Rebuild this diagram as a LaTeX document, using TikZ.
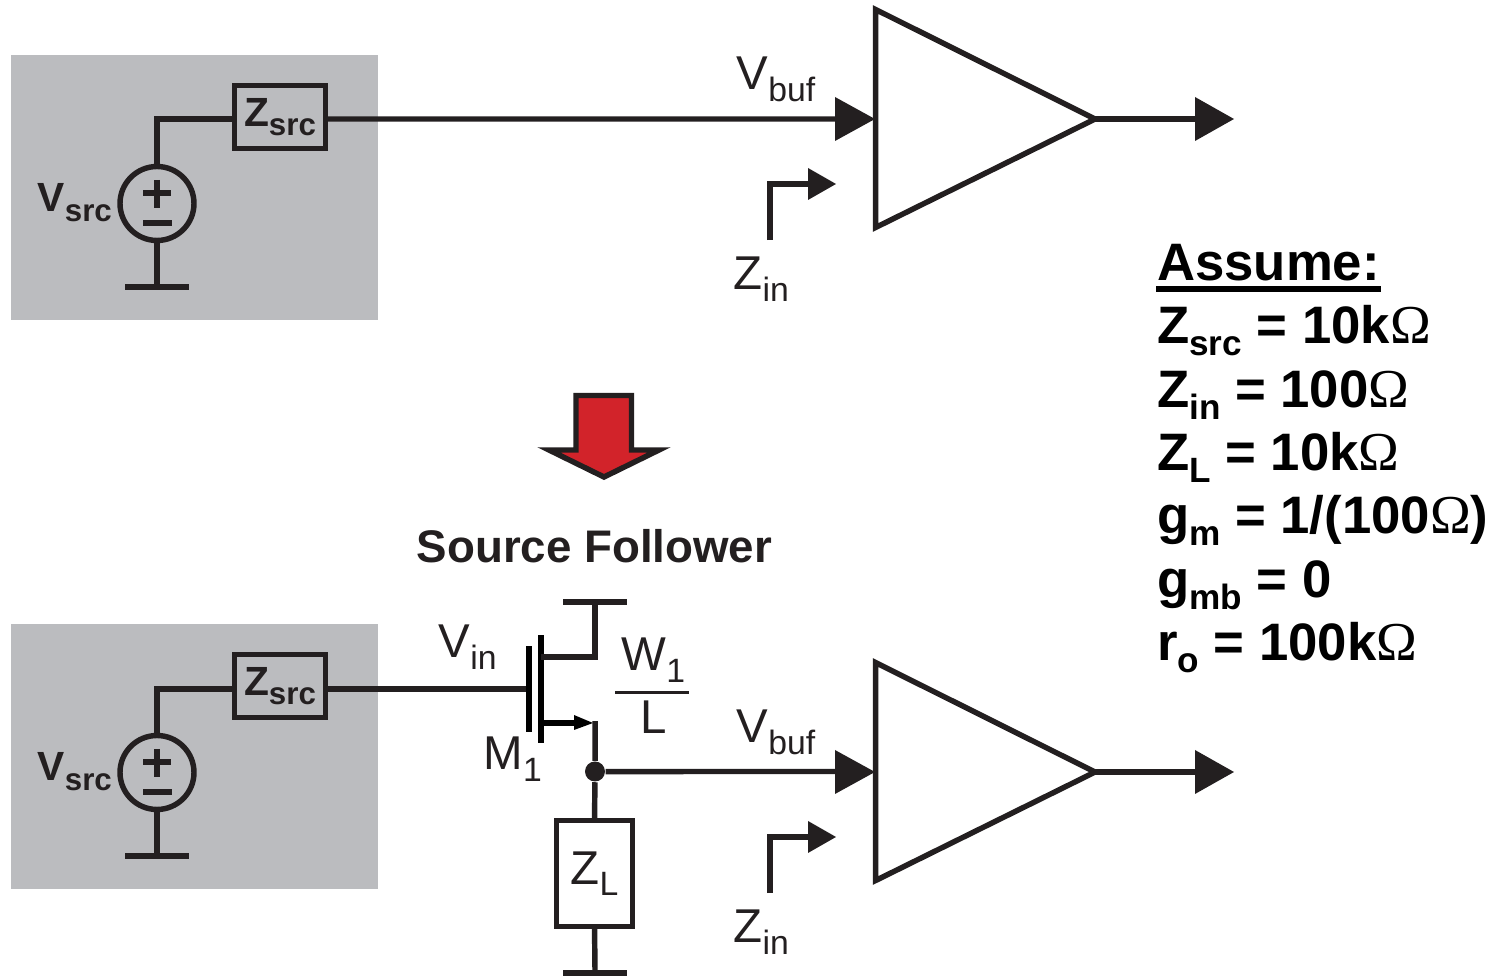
\documentclass[tikz,border=0pt]{standalone}
\usepackage{fontspec}
\setmainfont{Liberation Sans}
\newfontfamily\omegafont{Liberation Serif}
\definecolor{ink}{HTML}{231F20}
\definecolor{boxgray}{HTML}{BBBCBF}
\definecolor{redfill}{HTML}{D2232A}
\newcommand{\lowtxt}[1]{\raisebox{-3.4pt}{\fontsize{10}{10}\selectfont #1}}
\newcommand{\lowthin}[1]{\raisebox{-3.2pt}{\fontsize{9.6}{9.6}\selectfont #1}}
\newcommand{\lowbox}[1]{\raisebox{-2.6pt}{\fontsize{8.9}{8.9}\selectfont #1}}
\newcommand{\ohm}{{\fontsize{15.6}{15.6}\omegafont\mdseries Ω}}
\newcommand{\thin}{\fontsize{13.5}{13.5}\selectfont}
\newcommand{\heavy}{\fontsize{15}{15}\selectfont\bfseries}
\newcommand{\boxfont}{\fontsize{11.6}{11.6}\selectfont\bfseries}
\tikzset{
  wire/.style={ink,line width=1.55pt,line join=miter},
  bar/.style={ink,line width=1.7pt},
  txt/.style={anchor=base west,inner sep=0pt,text=ink},
  listtxt/.style={anchor=base west,inner sep=0pt,text=black,font=\heavy},
  zbox/.style={draw=ink,line width=1.7pt,rectangle,inner sep=0pt,outer sep=0pt,minimum width=0.91cm,minimum height=0.63cm,text=ink,font=\boxfont},
  srcnode/.style={draw=ink,line width=1.55pt,circle,inner sep=0pt,outer sep=0pt,minimum size=0.74cm}
}
\begin{document}
\begin{tikzpicture}[scale=0.1]
\useasboundingbox (0,0) rectangle (149.8,-97.7);
\fill [boxgray] (1.1,-5.55) rectangle (37.8,-32.05);
\fill [boxgray] (1.1,-62.45) rectangle (37.8,-88.95);
\node [zbox] (zsrcA) at (28,-11.7) {\raisebox{-0.6pt}{Z\lowbox{src}}};
\node [srcnode] (srcA) at (15.7,-20.35) {};
\coordinate (cornerA) at (15.7,-11.9);
\coordinate (gndA) at (15.7,-28.7);
\coordinate (gndAl) at (12.5,-28.7);
\coordinate (gndAr) at (18.9,-28.7);
\draw [wire] (srcA.north) -- (cornerA) -- (cornerA -| zsrcA.west);
\draw [wire] (srcA.south) -- (gndA);
\draw [bar] (gndAl) -- (gndAr);
\draw [bar] (15.7,-18) -- (15.7,-20.8);
\draw [bar] (14.3,-19.3) -- (17.1,-19.3);
\draw [bar] (14.3,-22.3) -- (17.2,-22.3);
\node [txt,font=\boxfont] (vsrcA) at (3.7,-21.2) {V\lowbox{src}};
\coordinate (ampAin) at (87.55,-11.9);
\coordinate (ampAtop) at (87.55,-0.95);
\coordinate (ampAbot) at (87.55,-22.75);
\coordinate (ampAout) at (109.5,-11.9);
\coordinate (outA) at (119.7,-11.9);
\draw [wire] (zsrcA.east |- ampAin) -- (84,-11.9);
\fill [ink] (83.5,-9.7) -- (87.5,-11.9) -- (83.5,-14.1) -- cycle;
\draw [wire] (ampAtop) -- (ampAout) -- (ampAbot) -- cycle;
\draw [wire] (ampAout) -- (outA);
\fill [ink] (119.5,-9.7) -- (123.4,-11.9) -- (119.5,-14.1) -- cycle;
\node [txt,font=\thin] (vbufA) at (73.6,-9) {V\lowthin{buf}};
\coordinate (zinAa) at (77,-24);
\coordinate (zinAb) at (77,-18.4);
\coordinate (zinAc) at (81,-18.4);
\draw [wire] (zinAa) -- (zinAb) -- (zinAc);
\fill [ink] (80.8,-16.8) -- (83.6,-18.4) -- (80.8,-20) -- cycle;
\node [txt,font=\thin] (zinA) at (73.3,-29) {Z\lowthin{in}};
\draw [ink,fill=redfill,line width=1.55pt,miter limit=10] (57.6,-39.55) -- (63.15,-39.55) -- (63.15,-45) -- (65.9,-45) -- (60.4,-47.7) -- (54.9,-45) -- (57.6,-45) -- cycle;
\node [txt,font=\fontsize{13}{13}\selectfont\bfseries] (title) at (41.6,-56.3) {Source Follower};
\node [zbox] (zsrcB) at (28,-68.6) {\raisebox{-0.6pt}{Z\lowbox{src}}};
\node [srcnode] (srcB) at (15.7,-77.25) {};
\coordinate (cornerB) at (15.7,-68.9);
\coordinate (gndB) at (15.7,-85.6);
\coordinate (gndBl) at (12.5,-85.6);
\coordinate (gndBr) at (18.9,-85.6);
\draw [wire] (srcB.north) -- (cornerB) -- (cornerB -| zsrcB.west);
\draw [wire] (srcB.south) -- (gndB);
\draw [bar] (gndBl) -- (gndBr);
\draw [bar] (15.7,-74.9) -- (15.7,-77.7);
\draw [bar] (14.3,-76.2) -- (17.1,-76.2);
\draw [bar] (14.3,-79.2) -- (17.2,-79.2);
\node [txt,font=\boxfont] (vsrcB) at (3.7,-78.1) {V\lowbox{src}};
\coordinate (gateB) at (52.9,-68.9);
\coordinate (gateT) at (52.9,-64.6);
\coordinate (gateD) at (52.9,-73.2);
\coordinate (chanT) at (54.1,-63.5);
\coordinate (chanD) at (54.1,-74.3);
\coordinate (drainA) at (54.1,-65.7);
\coordinate (drainB) at (59.5,-65.7);
\coordinate (vdd) at (59.5,-60.2);
\coordinate (vddl) at (56.3,-60.2);
\coordinate (vddr) at (62.7,-60.2);
\coordinate (sourceA) at (54.1,-72.3);
\coordinate (sourceB) at (57.6,-72.3);
\coordinate (sourceC) at (59.5,-72.1);
\draw [wire] (zsrcB.east |- gateB) -- (gateB);
\draw [black,line width=1.7pt] (gateT) -- (gateD);
\draw [black,line width=1.7pt] (chanT) -- (chanD);
\draw [wire] (drainA) -- (drainB) -- (vdd);
\draw [bar] (vddl) -- (vddr);
\draw [black,line width=1.6pt] (sourceA) -- (sourceB);
\fill [black] (57.4,-71.5) -- (59.3,-72.3) -- (57.4,-73) -- cycle;
\node [circle,fill=ink,inner sep=0pt,minimum size=0.2cm] (dot) at (59.5,-77.15) {};
\node [zbox,minimum width=0.76cm,minimum height=1.06cm,font=\thin] (zl) at (59.45,-87.35) {\raisebox{-0.5pt}{Z\lowthin{L}}};
\coordinate (gndC) at (59.5,-97.3);
\coordinate (gndCl) at (56.3,-97.3);
\coordinate (gndCr) at (62.7,-97.3);
\draw [wire] (sourceC) -- (dot);
\draw [wire] (dot) -- (zl.north);
\draw [wire] (zl.south) -- (gndC);
\draw [bar] (gndCl) -- (gndCr);
\node [txt,font=\thin] (vin) at (43.8,-65.8) {V\lowthin{in}};
\node [txt,font=\thin] (wone) at (62.1,-67.1) {W\lowthin{1}};
\coordinate (fracl) at (61.5,-69.25);
\coordinate (fracr) at (68.9,-69.25);
\draw [ink,line width=1.1pt] (fracl) -- (fracr);
\node [txt,font=\thin] (ell) at (64,-73.4) {L};
\node [txt,font=\thin] (mone) at (48.3,-77) {M\lowthin{1}};
\coordinate (ampBin) at (87.55,-77.2);
\coordinate (ampBtop) at (87.55,-66.25);
\coordinate (ampBbot) at (87.55,-88.05);
\coordinate (ampBout) at (109.5,-77.2);
\coordinate (outB) at (119.7,-77.2);
\draw [wire] (dot) -- (84,-77.15);
\fill [ink] (83.5,-75) -- (87.5,-77.2) -- (83.5,-79.4) -- cycle;
\draw [wire] (ampBtop) -- (ampBout) -- (ampBbot) -- cycle;
\draw [wire] (ampBout) -- (outB);
\fill [ink] (119.5,-75) -- (123.4,-77.2) -- (119.5,-79.4) -- cycle;
\node [txt,font=\thin] (vbufB) at (73.6,-74.3) {V\lowthin{buf}};
\coordinate (zinBa) at (77,-89.3);
\coordinate (zinBb) at (77,-83.7);
\coordinate (zinBc) at (81,-83.7);
\draw [wire] (zinBa) -- (zinBb) -- (zinBc);
\fill [ink] (80.8,-82.1) -- (83.6,-83.7) -- (80.8,-85.3) -- cycle;
\node [txt,font=\thin] (zinB) at (73.3,-94.3) {Z\lowthin{in}};
\node [listtxt] (assume) at (115.65,-28.1) {Assume:};
\draw [black,line width=1.7pt] (115.6,-28.9) -- (assume.base east |- 0,-28.9);
\node [listtxt] (lineA) at (115.65,-34.4) {Z\lowtxt{src} = 10k\ohm};
\node [listtxt] (lineB) at (115.65,-40.8) {Z\lowtxt{in} = 100\ohm};
\node [listtxt] (lineC) at (115.65,-47.1) {Z\lowtxt{L} = 10k\ohm};
\node [listtxt] (lineD) at (115.65,-53.4) {g\lowtxt{m} = 1/(100\ohm)};
\node [listtxt] (lineE) at (115.65,-59.8) {g\lowtxt{mb} = 0};
\node [listtxt] (lineF) at (115.65,-66.1) {r\lowtxt{o} = 100k\ohm};
\end{tikzpicture}
\end{document}
